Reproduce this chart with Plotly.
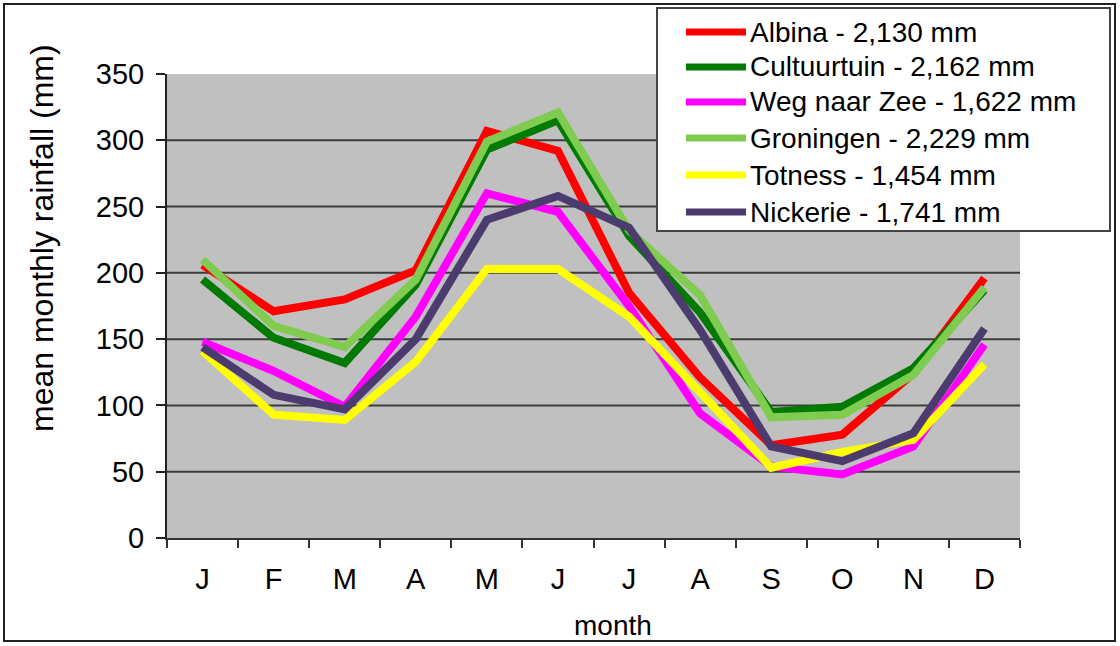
import plotly.graph_objects as go

# Monthly rainfall (mm) per station
months = ["J", "F", "M", "A", "M", "J", "J", "A", "S", "O", "N", "D"]
month_keys = [f"{i:02d}" for i in range(1, 13)]

albina      = [206, 171, 180, 202, 307, 292, 185, 121, 70, 78, 124, 196]
cultuurtuin = [195, 151, 132, 191, 293, 315, 228, 170, 95, 99, 128, 187]
weg_naar_zee = [148, 126, 99, 167, 260, 246, 175, 94, 54, 48, 69, 146]
groningen   = [210, 160, 144, 195, 299, 321, 232, 183, 91, 93, 123, 189]
totness     = [141, 93, 89, 133, 203, 203, 167, 109, 53, 65, 74, 131]
nickerie    = [144, 108, 97, 150, 240, 258, 234, 157, 69, 58, 79, 158]

names = [
    "Albina - 2,130 mm",
    "Cultuurtuin - 2,162 mm",
    "Weg naar Zee - 1,622 mm",
    "Groningen - 2,229 mm",
    "Totness - 1,454 mm",
    "Nickerie - 1,741 mm",
]
series = [albina, cultuurtuin, weg_naar_zee, groningen, totness, nickerie]
colors = ["#FF0000", "#007A00", "#FF00FF", "#80CC50", "#FFFF00", "#4B3B6E"]

y_ticks = [0, 50, 100, 150, 200, 250, 300, 350]

# Page and plot-area geometry (pixels)
W, H = 1120, 646
L, R, T, B = 167, 1020, 74, 538
PW, PH = R - L, B - T


def px(x):
    return (x - L) / PW


def py(y):
    return (B - y) / PH


FONT = "Liberation Sans, Arial, sans-serif"

fig = go.Figure()
for name, vals, col in zip(names, series, colors):
    fig.add_trace(go.Scatter(
        x=month_keys, y=vals, mode="lines", name=name,
        line=dict(color=col, width=8), showlegend=False,
    ))

shapes = []
# horizontal grid lines (none on the top edge)
for v in y_ticks[1:-1]:
    shapes.append(dict(type="line", xref="paper", yref="y", x0=0, x1=1, y0=v, y1=v,
                       line=dict(color="#3C3C3C", width=2), layer="below"))

# outer frame around the whole chart
shapes.append(dict(type="rect", xref="paper", yref="paper",
                   x0=px(4), x1=px(1115), y0=py(641), y1=py(4),
                   line=dict(color="#222222", width=2)))

# legend box
lg_l, lg_r, lg_t, lg_b = 657, 1110, 8, 231
shapes.append(dict(type="rect", xref="paper", yref="paper",
                   x0=px(lg_l), x1=px(lg_r), y0=py(lg_b), y1=py(lg_t),
                   fillcolor="white", line=dict(color="#444444", width=2)))

annotations = []
row_y = [32, 67, 102, 138, 175, 212]
for name, col, ry in zip(names, colors, row_y):
    shapes.append(dict(type="line", xref="paper", yref="paper",
                       x0=px(686), x1=px(746), y0=py(ry), y1=py(ry),
                       line=dict(color=col, width=7)))
    annotations.append(dict(xref="paper", yref="paper", x=px(748), y=py(ry),
                            text=name, showarrow=False, xanchor="left", yanchor="middle",
                            font=dict(family=FONT, size=28, color="black")))

# axis titles
annotations.append(dict(xref="paper", yref="paper", x=px(42), y=py(238),
                        text="mean monthly rainfall (mm)", textangle=-90, showarrow=False,
                        xanchor="center", yanchor="middle",
                        font=dict(family=FONT, size=32, color="black")))
annotations.append(dict(xref="paper", yref="paper", x=px(613), y=py(625),
                        text="month", showarrow=False, xanchor="center", yanchor="middle",
                        font=dict(family=FONT, size=28, color="black")))

fig.update_layout(
    width=W, height=H,
    margin=dict(l=L, r=W - R, t=T, b=H - B, autoexpand=False),
    paper_bgcolor="white",
    plot_bgcolor="#C0C0C0",
    shapes=shapes,
    annotations=annotations,
    showlegend=False,
    font=dict(family=FONT, color="black"),
)

fig.update_xaxes(
    type="category", tickmode="array", tickvals=month_keys, ticktext=months,
    range=[-0.5, 11.5], tickson="boundaries",
    ticks="outside", ticklen=8, tickwidth=2, tickcolor="#333333",
    showline=True, linecolor="#333333", linewidth=2,
    showgrid=False, zeroline=False,
    tickfont=dict(family=FONT, size=29, color="black"),
    ticklabelstandoff=14,
)
fig.update_yaxes(
    range=[0, 350], tickmode="array", tickvals=y_ticks,
    ticks="outside", ticklen=9, tickwidth=2, tickcolor="#222222",
    showline=True, linecolor="#222222", linewidth=2,
    showgrid=False, zeroline=False,
    tickfont=dict(family=FONT, size=29, color="black"),
    ticklabelstandoff=6,
)

fig.write_html("out.html")
